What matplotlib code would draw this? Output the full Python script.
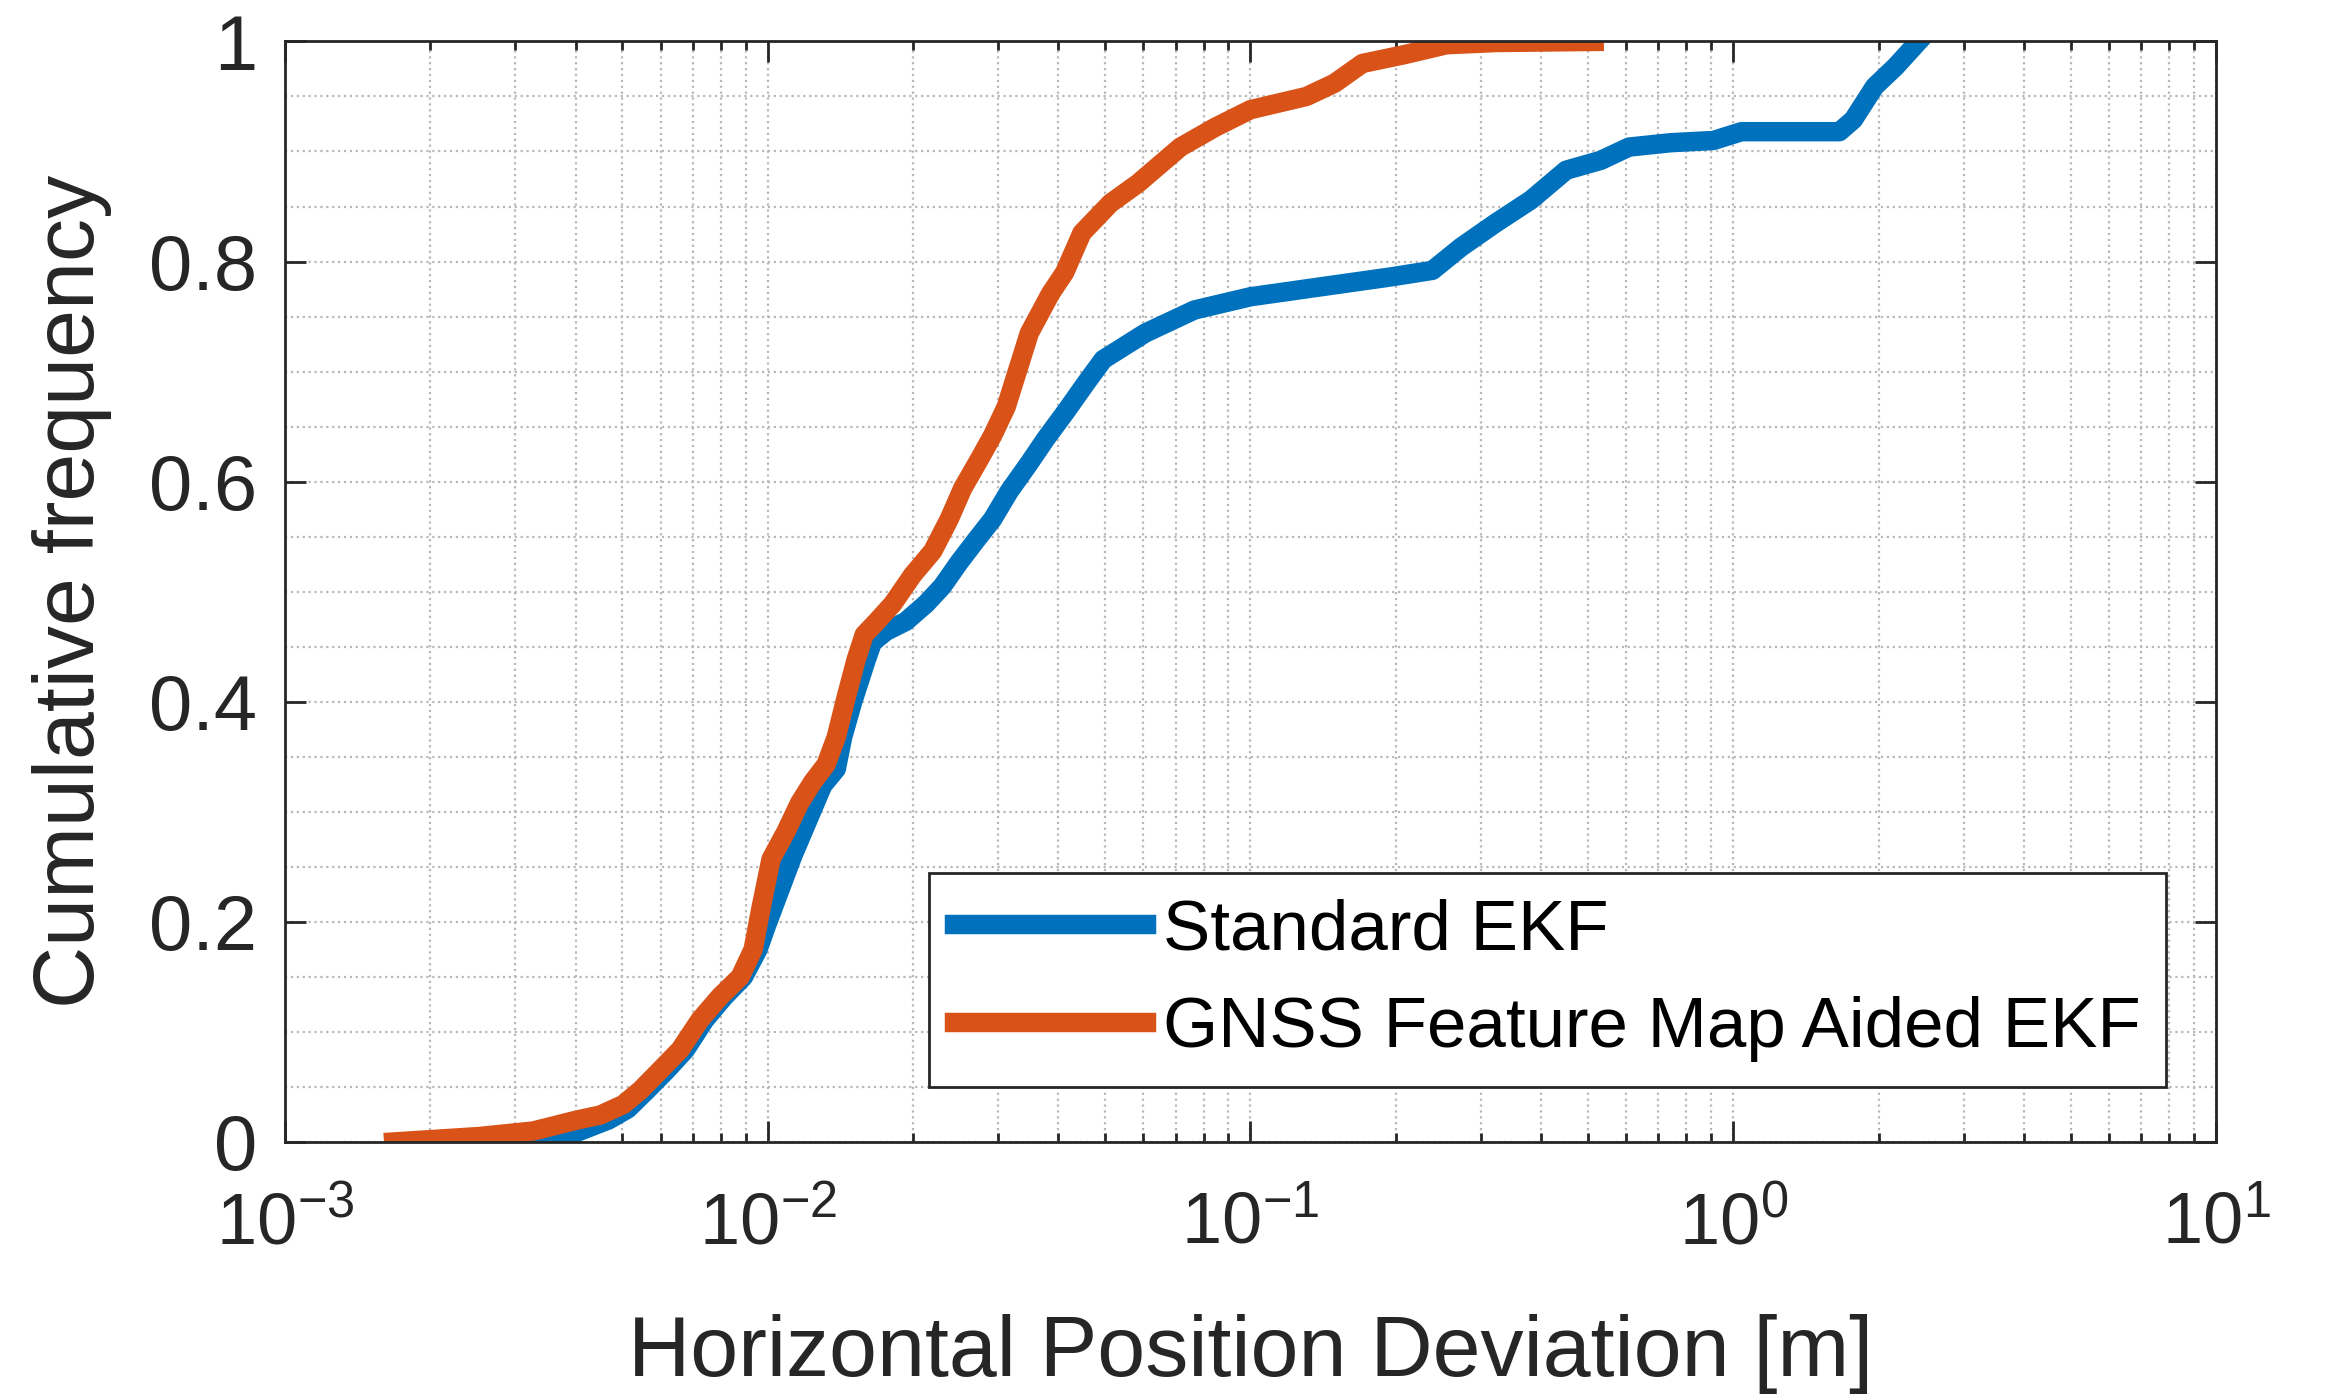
import matplotlib
matplotlib.use('Agg')
import matplotlib.pyplot as plt
from matplotlib.ticker import LogLocator, MultipleLocator, NullFormatter, FuncFormatter

# --- data (ECDF traces) ---
ekf_x = [0.0024, 0.00339, 0.00398, 0.00468, 0.00513, 0.00562, 0.00617, 0.00676,
         0.00741, 0.00813, 0.00891, 0.00955, 0.00993, 0.01127, 0.0130, 0.01387,
         0.0143, 0.0150, 0.0160, 0.01648, 0.01758, 0.01932, 0.02128, 0.02301,
         0.02495, 0.02698, 0.02924, 0.03162, 0.03483, 0.03767, 0.04150, 0.0457,
         0.04955, 0.06053, 0.07656, 0.1000, 0.1396, 0.1950, 0.2382, 0.2729,
         0.3221, 0.3811, 0.4508, 0.5321, 0.6081, 0.7430, 0.9099, 1.040, 1.660,
         1.774, 1.963, 2.168, 2.42]
ekf_y = [0.0, 0.002, 0.008, 0.020, 0.030, 0.047, 0.065, 0.084,
         0.111, 0.132, 0.150, 0.175, 0.196, 0.260, 0.324, 0.339,
         0.368, 0.400, 0.438, 0.454, 0.464, 0.473, 0.489, 0.505,
         0.527, 0.5465, 0.566, 0.591, 0.617, 0.639, 0.664, 0.690,
         0.711, 0.735, 0.756, 0.768, 0.777, 0.786, 0.792, 0.813,
         0.835, 0.856, 0.883, 0.892, 0.904, 0.908, 0.910, 0.918, 0.918,
         0.929, 0.959, 0.977, 1.0]

fm_x = [0.00168, 0.00253, 0.00327, 0.00403, 0.00450, 0.00502, 0.00545, 0.00598,
        0.00659, 0.00724, 0.00796, 0.00877, 0.00933, 0.00968, 0.01016, 0.01091,
        0.01164, 0.01239, 0.01321, 0.01387, 0.01452, 0.01524, 0.01585, 0.01675,
        0.01816, 0.01995, 0.02198, 0.02377, 0.02535, 0.02742, 0.02924, 0.03119,
        0.03483, 0.03855, 0.04121, 0.04477, 0.05129, 0.05848, 0.07161, 0.08453,
        0.1000, 0.1306, 0.1493, 0.1706, 0.2084, 0.2547, 0.3221, 0.5152]
fm_y = [0.0, 0.005, 0.010, 0.020, 0.0245, 0.034, 0.047, 0.065,
        0.084, 0.111, 0.132, 0.150, 0.175, 0.212, 0.257, 0.282,
        0.308, 0.327, 0.343, 0.368, 0.403, 0.438, 0.461, 0.472,
        0.489, 0.515, 0.537, 0.566, 0.594, 0.620, 0.642, 0.668,
        0.735, 0.771, 0.790, 0.826, 0.853, 0.871, 0.904, 0.922,
        0.938, 0.950, 0.962, 0.980, 0.988, 0.997, 0.999, 1.0]

labels = ['Standard EKF', 'GNSS Feature Map Aided EKF']
colors = ['#0072BD', '#D95319']

plt.rcParams['font.family'] = ['Liberation Sans', 'DejaVu Sans']
plt.rcParams['mathtext.fontset'] = 'custom'
plt.rcParams['mathtext.rm'] = 'Liberation Sans'
plt.rcParams['mathtext.it'] = 'Liberation Sans'
plt.rcParams['mathtext.default'] = 'regular'

ink = '#262626'
fig = plt.figure(figsize=(23.26, 14.0), dpi=100)
ax = fig.add_axes([0.1225, 0.1843, 0.8302, 0.7861])

ax.plot(ekf_x, ekf_y, color=colors[0], lw=14, label=labels[0], solid_joinstyle='round')
ax.plot(fm_x, fm_y, color=colors[1], lw=14, label=labels[1], solid_joinstyle='round')

ax.set_xscale('log')
ax.set_xlim(1e-3, 10)
ax.set_ylim(0, 1)
ax.xaxis.set_major_locator(LogLocator(base=10, numticks=10))
ax.xaxis.set_minor_locator(LogLocator(base=10, subs=range(2, 10), numticks=50))
ax.xaxis.set_minor_formatter(NullFormatter())
ax.yaxis.set_major_locator(MultipleLocator(0.2))
ax.yaxis.set_minor_locator(MultipleLocator(0.05))
ax.yaxis.set_major_formatter(FuncFormatter(lambda v, _: f'{v:g}'))

ax.grid(True, which='both', linestyle=':', color='#b8b8b8', lw=1.6)
ax.set_axisbelow(True)

ax.tick_params(which='both', direction='in', top=True, right=True, colors=ink,
               width=2)
ax.tick_params(axis='x', which='major', length=15, pad=35, labelsize=52)
ax.tick_params(axis='x', which='minor', length=6.5)
ax.tick_params(axis='y', which='major', length=15, pad=20, labelsize=56)
ax.tick_params(axis='y', which='minor', length=0)
for s in ax.spines.values():
    s.set_color(ink)
    s.set_linewidth(2)

ax.set_xlabel('Horizontal Position Deviation [m]', fontsize=62, color=ink, labelpad=40)
ax.set_ylabel('Cumulative frequency', fontsize=62, color=ink, labelpad=27)

leg = ax.legend(loc='lower right', bbox_to_anchor=(0.974, 0.05), borderaxespad=0,
                fontsize=51, frameon=True, fancybox=False, framealpha=1,
                edgecolor=ink, handlelength=2.7, handletextpad=0.25,
                borderpad=0.35, labelspacing=0.45)
leg.get_frame().set_linewidth(2)

fig.savefig('out.png', dpi=100, facecolor='white')
